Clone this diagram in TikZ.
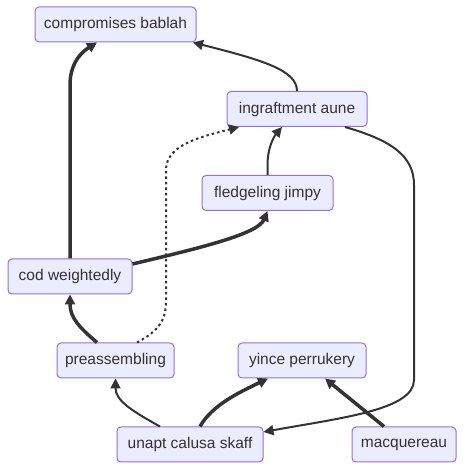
\documentclass[tikz,border=0pt]{standalone}
\usepackage{fontspec}
\setmainfont{Liberation Sans}
\usetikzlibrary{arrows.meta}
\definecolor{nodefill}{HTML}{ECECFF}
\definecolor{nodeline}{HTML}{9370DB}
\definecolor{ink}{HTML}{333333}
\tikzset{
  box/.style={rectangle, rounded corners=4pt, fill=nodefill, draw=nodeline, line width=1pt,
    minimum height=35pt, inner sep=0pt, text=ink, font=\fontsize{15.5}{18}\selectfont},
  thinedge/.style={draw=ink, line width=2pt, -{Triangle[length=10pt,width=10pt]}},
  thickedge/.style={draw=ink, line width=3.5pt, -{Triangle[length=10pt,width=10pt]}},
  dotedge/.style={draw=ink, line width=2pt, dash pattern=on 2.5pt off 3pt, -{Triangle[length=10pt,width=10pt]}}
}
\begin{document}
\begin{tikzpicture}[x=1pt,y=1pt]
\useasboundingbox (0,0) rectangle (464,470);
\node[box, minimum width=161pt] (comp) at (115.5,445.5) {compromises bablah};
\node[box, minimum width=140pt] (ing) at (297,361) {ingraftment aune};
\node[box, minimum width=131pt] (fle) at (267.5,277) {fledgeling jimpy};
\node[box, minimum width=124pt] (cod) at (70,193.5) {cod weightedly};
\node[box, minimum width=117pt] (pre) at (115.5,109.5) {preassembling};
\node[box, minimum width=128pt] (yin) at (302,109.5) {yince perrukery};
\node[box, minimum width=146pt] (una) at (190,25.5) {unapt calusa skaff};
\node[box, minimum width=104pt] (mac) at (404,25.5) {macquereau};

\draw[thinedge] (ing.north) .. controls (297,400) and (262,410) .. ([xshift=77.5]comp.south);
\draw[thickedge] (cod.north) -- (70,385) .. controls (70,410) and (85,420) .. ([xshift=-18.5]comp.south);
\draw[thinedge] (fle.north) -- (267.5,305) .. controls (267.5,325) and (276,336) .. ([xshift=-15]ing.south);
\draw[thickedge] ([yshift=12.5]cod.east) .. controls (200,222) and (258,236) .. (fle.south);
\draw[thickedge] ([xshift=-18.5]pre.north) .. controls (80,142) and (70,152) .. (cod.south);
\draw[dotedge] ([xshift=21.5]pre.north) .. controls (160,140) and (166,150) .. (166,170) -- (166,300) .. controls (166,325) and (200,333) .. ([xshift=-58]ing.south);
\draw[thinedge] ([xshift=48]ing.south) .. controls (390,330) and (414,315) .. (414,285) -- (414,90) .. controls (414,60) and (340,52) .. ([yshift=12.5]una.east);
\draw[thinedge] ([xshift=-30]una.north) .. controls (130,60) and (115.5,70) .. (pre.south);
\draw[thickedge] ([xshift=10]una.north) .. controls (212,65) and (240,78) .. ([xshift=-34]yin.south);
\draw[thickedge] ([xshift=-20]mac.north) -- ([xshift=23]yin.south);
\end{tikzpicture}
\end{document}
